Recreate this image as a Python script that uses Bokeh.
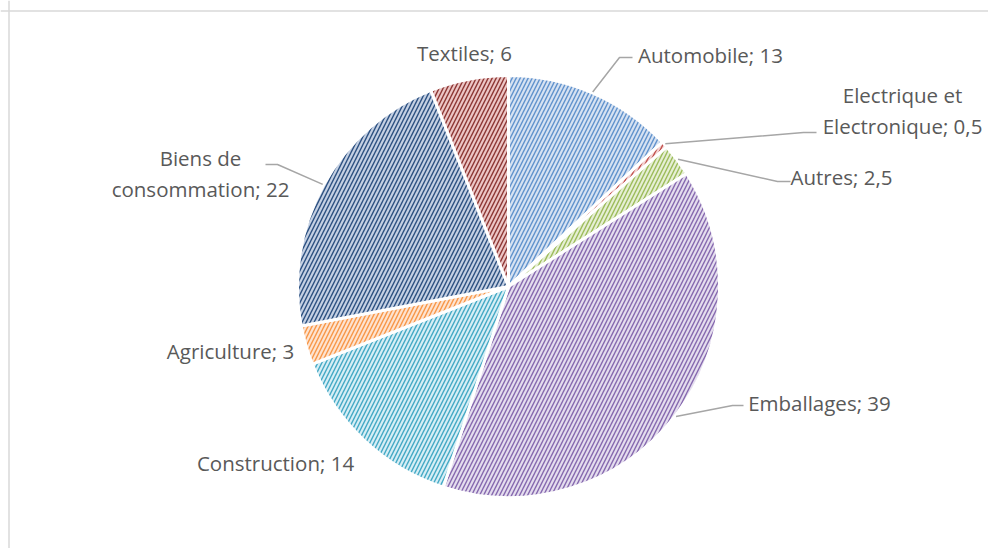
import math
from bokeh.plotting import figure
from bokeh.models import Range1d, Span, ColumnDataSource
from bokeh.core.properties import value
from bokeh.embed import file_html
from bokeh.resources import INLINE

# ---- data ----
categories = ["Automobile", "Electrique et\nElectronique", "Autres", "Emballages",
              "Construction", "Agriculture", "Biens de\nconsommation", "Textiles"]
values = [13, 0.5, 2.5, 39, 14, 3, 22, 6]

# ---- styles ----
fill_colors = ["#d6e2f2", "#f4d3d2", "#e6efd4", "#e4ddee", "#d6eef5", "#fde3d0", "#c4d0e3", "#ecc6c5"]
hatch_colors = ["#5f91cc", "#c0504d", "#9bbb59", "#8567ae", "#42a8c4", "#f79646", "#2b4f80", "#8c3533"]

# layout in screen pixels (x, y from top-left of the picture)
W, H = 988, 548
CX, CY, R = 508, 286, 211
label_pos = {  # text block centers
    0: (710, 54), 1: (902, 110), 2: (841, 176), 3: (819, 402),
    4: (275, 462), 5: (230, 350), 6: (200, 173), 7: (464, 52),
}
leader_pts = {  # elbow, end
    0: [(619, 57), (632, 57)],
    1: [(803, 132), (816, 132)],
    2: [(777, 181), (790, 181)],
    3: [(732, 405), (743, 405)],
    6: [(277, 164), (265, 164)],
}

def fy(py):  # screen y -> data y
    return H - py

p = figure(width=W, height=H, output_backend="svg", toolbar_location=None,
           x_range=Range1d(0, W), y_range=Range1d(0, H),
           min_border=0, outline_line_color=None, background_fill_color="white",
           border_fill_color="white")
p.axis.visible = False
p.grid.visible = False

total = sum(values)
starts, ends, mids = [], [], []
cum = 0.0
for v in values:
    a0 = math.pi / 2 - 2 * math.pi * cum / total
    cum += v
    a1 = math.pi / 2 - 2 * math.pi * cum / total
    starts.append(a0)
    ends.append(a1)
    mids.append((a0 + a1) / 2)

src = ColumnDataSource(dict(start=starts, end=ends, fill=fill_colors, hatch=hatch_colors,
                            x=[CX] * len(values), y=[fy(CY)] * len(values)))
p.wedge(x="x", y="y", radius=R, start_angle="start", end_angle="end", direction="clock",
        fill_color="fill", hatch_color="hatch", hatch_pattern="/", hatch_scale=8,
        hatch_weight=1.4, line_color="white", line_width=3, source=src)

# leader lines
for i, pts in leader_pts.items():
    ex = CX + (R + 1) * math.cos(mids[i])
    ey = fy(CY) + (R + 1) * math.sin(mids[i])
    xs = [ex] + [q[0] for q in pts]
    ys = [ey] + [fy(q[1]) for q in pts]
    p.line(xs, ys, line_color="#a6a6a6", line_width=1.5)

def fmt(v):
    return ("%g" % v).replace(".", ",")

texts = [f"{c}; {fmt(v)}" for c, v in zip(categories, values)]
lx = [label_pos[i][0] for i in range(len(texts))]
ly = [fy(label_pos[i][1]) for i in range(len(texts))]
p.text(x=lx, y=ly, text=texts, text_align="center", text_baseline="middle",
       text_font=value("Open Sans"), text_font_size="20.5px", text_color="#595959",
       text_line_height=1.1)

# chart border (top and left visible)
p.add_layout(Span(location=8.5, dimension="height", line_color="#d9d9d9", line_width=1.5))
p.add_layout(Span(location=fy(10.5), dimension="width", line_color="#d9d9d9", line_width=1.5))

open("out.html", "w").write(file_html(p, INLINE))
